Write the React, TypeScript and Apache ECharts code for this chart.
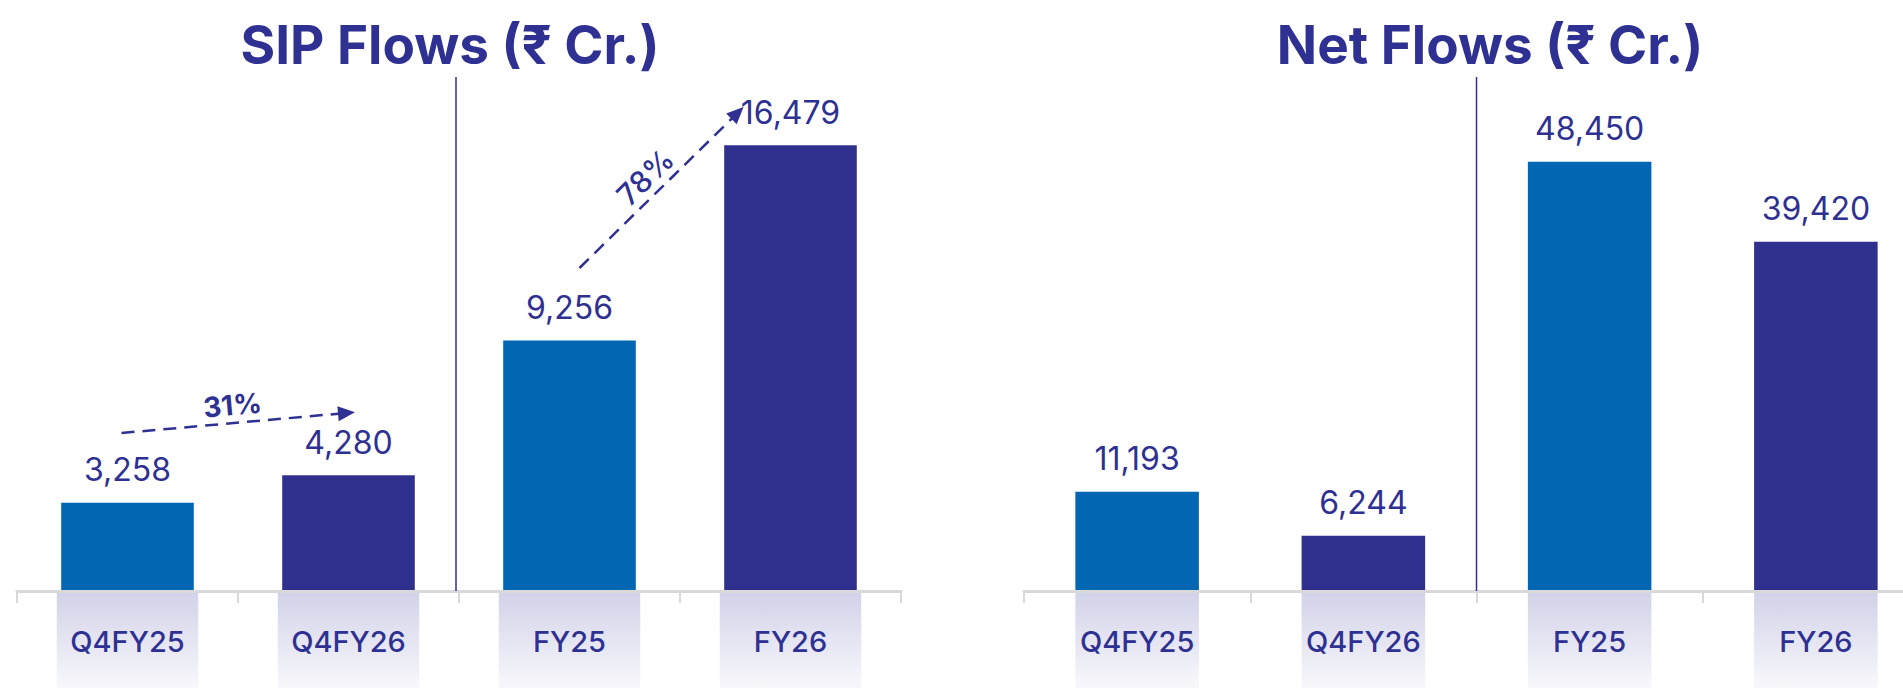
import React, { useEffect, useRef } from 'react';
import * as echarts from 'echarts';

// ---- data ----
const categories = ['Q4FY25', 'Q4FY26', 'FY25', 'FY26'];
const sipFlows = [3258, 4280, 9256, 16479];
const netFlows = [11193, 6244, 48450, 39420];
const sipTitle = 'SIP Flows (₹ Cr.)';
const netTitle = 'Net Flows (₹ Cr.)';
// growth annotations (SIP panel): start/end expressed in category + value units
const sipGrowthLabels = ['31%', '78%'];
const sipGrowthFrom = [['Q4FY25', 5840], ['FY25', 11940]];
const sipGrowthTo = [['Q4FY26', 6580], ['FY26', 17670]];

// ---- style ----
const BLUE = '#0366B2';
const NAVY = '#30318F';
const TEXT = '#2E3192';
const AXIS = '#D9D9D9';
const FONT = "Inter, 'Noto Sans', sans-serif";

export default function App() {
  const ref = useRef<HTMLDivElement>(null);

  useEffect(() => {
    const chart = echarts.init(ref.current as HTMLDivElement, null, { renderer: 'svg' });
    const barColors = categories.map((_, i) => (i % 2 === 0 ? BLUE : NAVY));
    const mkData = (vals: number[]) =>
      vals.map((v, i) => ({ value: v, itemStyle: { color: barColors[i] } }));

    const panels = [
      { id: 'sip', left: 17, width: 884, max: 19000, barWidth: '60%', reflWidth: '64%', titleX: 450, title: sipTitle, data: sipFlows, dividerShift: -3 },
      { id: 'net', left: 1024, width: 905, max: 58000, barWidth: '54.6%', reflWidth: '54.6%', titleX: 1490, title: netTitle, data: netFlows, dividerShift: 0 },
    ];

    const grid: any[] = [];
    const xAxis: any[] = [];
    const yAxis: any[] = [];
    const series: any[] = [];
    const graphic: any[] = [];

    panels.forEach((p, k) => {
      const gMain = 2 * k;
      const gRefl = 2 * k + 1;
      grid.push({ left: p.left, width: p.width, top: 77, height: 514 });
      grid.push({ left: p.left, width: p.width, top: 593, height: 95 });
      xAxis.push({
        type: 'category',
        gridIndex: gMain,
        data: categories,
        z: 5,
        axisLine: { lineStyle: { color: AXIS, width: 3 } },
        axisTick: { show: true, length: 12, lineStyle: { color: AXIS, width: 2 } },
        axisLabel: {
          color: TEXT,
          fontSize: 29,
          fontWeight: 500,
          fontFamily: FONT,
          margin: 50,
          verticalAlign: 'middle',
        },
        splitLine: { show: false },
      });
      xAxis.push({ type: 'category', gridIndex: gRefl, data: categories, show: false });
      yAxis.push({ type: 'value', gridIndex: gMain, min: 0, max: p.max, show: false });
      yAxis.push({ type: 'value', gridIndex: gRefl, min: 0, max: 1, show: false });

      series.push({
        id: p.id + 'Bars',
        type: 'bar',
        xAxisIndex: gMain,
        yAxisIndex: gMain,
        barWidth: p.barWidth,
        data: mkData(p.data),
        z: 3,
        label: {
          show: true,
          position: 'top',
          distance: 17,
          color: TEXT,
          fontSize: 32,
          fontFamily: FONT,
          formatter: (pr: any) => Number(pr.value).toLocaleString('en-US'),
        },
      });
      series.push({
        type: 'bar',
        xAxisIndex: gRefl,
        yAxisIndex: gRefl,
        barWidth: p.reflWidth,
        silent: true,
        z: 1,
        data: categories.map(() => 1),
        itemStyle: {
          color: new echarts.graphic.LinearGradient(0, 0, 0, 1, [
            { offset: 0, color: '#D2D2E9' },
            { offset: 1, color: '#F8F8FC' },
          ]),
        },
      });

      graphic.push({
        type: 'text',
        x: p.titleX,
        y: 45,
        style: {
          text: p.title,
          align: 'center',
          verticalAlign: 'middle',
          textAlign: 'center',
          textVerticalAlign: 'middle',
          fill: TEXT,
          fontSize: 53,
          fontWeight: 700,
          fontFamily: FONT,
        },
      });
    });

    chart.setOption({
      animation: false,
      grid,
      xAxis,
      yAxis,
      series,
      graphic,
    });

    // dividers between the quarterly and yearly groups, from the axes' scales
    const dividers = panels.map((p, k) => {
      const g = 2 * k;
      const c1 = chart.convertToPixel({ xAxisIndex: g, yAxisIndex: g }, [categories[1], p.max]) as number[];
      const c2 = chart.convertToPixel({ xAxisIndex: g, yAxisIndex: g }, [categories[2], 0]) as number[];
      const x = (c1[0] + c2[0]) / 2 + p.dividerShift;
      return {
        type: 'line',
        shape: { x1: x, y1: c1[1], x2: x, y2: c2[1] },
        style: { stroke: TEXT, lineWidth: 1.5 },
        z: 10,
      };
    });

    // growth arrows: positions derived from the axes' scales
    const xOffsetsFrom = [-6, 10];
    const xOffsetsTo = [-2, -53];
    const lines = sipGrowthLabels.map((lab, i) => {
      const a = chart.convertToPixel({ xAxisIndex: 0, yAxisIndex: 0 }, sipGrowthFrom[i] as any) as number[];
      const b = chart.convertToPixel({ xAxisIndex: 0, yAxisIndex: 0 }, sipGrowthTo[i] as any) as number[];
      return [
        {
          x: a[0] + xOffsetsFrom[i],
          y: a[1],
          label: {
            formatter: lab,
            fontWeight: i === 0 ? 700 : 500,
            fontSize: i === 0 ? 28 : 30,
          },
        },
        { x: b[0] + xOffsetsTo[i], y: b[1] },
      ];
    });

    chart.setOption({
      graphic: graphic.concat(dividers),
      series: [
        {
          id: 'sipBars',
          markLine: {
            silent: true,
            animation: false,
            symbol: ['none', 'triangle'],
            symbolSize: [15, 17],
            lineStyle: { color: TEXT, width: 2.5, type: [13, 8] },
            label: {
              show: true,
              position: 'middle',
              color: TEXT,
              fontFamily: FONT,
              distance: 4,
            },
            data: lines,
          },
        },
      ],
    });

    return () => chart.dispose();
  }, []);

  return (
    <div
      style={{ position: 'absolute', left: 0, top: 0, width: 1903, height: 688, overflow: 'hidden', background: '#fff' }}
    >
      <div ref={ref} style={{ width: 1940, height: 688 }} />
    </div>
  );
}
